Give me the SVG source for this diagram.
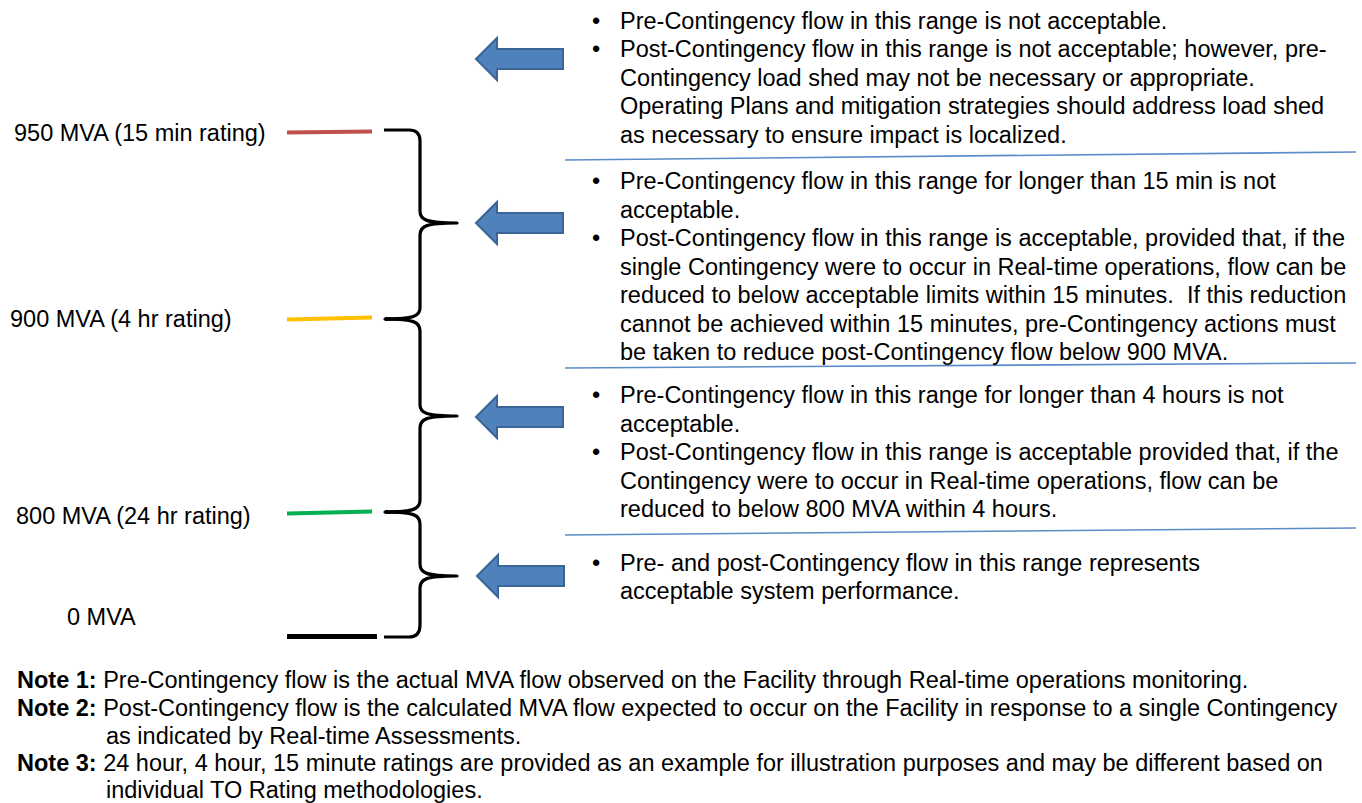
<svg xmlns="http://www.w3.org/2000/svg" width="1362" height="803" viewBox="0 0 1362 803">
<style>
.t{font-family:"Liberation Sans",Arial,sans-serif;font-size:23.5px;fill:#000}
.l{font-family:"Liberation Sans",Arial,sans-serif;font-size:23.5px;fill:#000}
.b{font-weight:bold}
.sep{stroke:#5B8BC9;stroke-width:1.6;fill:none}
.arr{fill:#4F81BD;stroke:#3A6596;stroke-width:2;stroke-linejoin:miter}
.brace{fill:none;stroke:#000;stroke-width:3.2;stroke-linejoin:round;stroke-linecap:butt}
</style>
<defs>
<path id="arrow" class="arr" d="M0,0 L21,-21 L21,-10 L87,-10 L87,10 L21,10 L21,21 Z"/>
</defs>
<rect width="1362" height="803" fill="#fff"/>

<g id="levels">
<g id="level-950">
<text class="l" x="14" y="141">950 MVA (15 min rating)</text>
<line x1="287" y1="132.5" x2="372" y2="131.5" stroke="#C0504D" stroke-width="4"/>
</g>
<g id="level-900">
<text class="l" x="10" y="327">900 MVA (4 hr rating)</text>
<line x1="287" y1="319.5" x2="372" y2="317.5" stroke="#FFC000" stroke-width="4"/>
</g>
<g id="level-800">
<text class="l" x="16" y="524">800 MVA (24 hr rating)</text>
<line x1="287" y1="513.5" x2="372" y2="511.5" stroke="#00B050" stroke-width="4"/>
</g>
<g id="level-0">
<text class="l" x="67" y="625">0 MVA</text>
<line x1="287" y1="636.5" x2="377" y2="636.5" stroke="#000" stroke-width="5"/>
</g>
</g>

<g id="connectors">
<path class="brace" d="M384,130 L409,130 Q420,130 420,141 L420,211 C420,220 426,223 457,223 C426,223 420,226 420,235 L420,308 C420,316 414,319 385,319 C414,319 420,322 420,331 L420,405 C420,413 426,416 457,416 C426,416 420,419 420,428 L420,500 C420,509 414,512 385,512 C414,512 420,515 420,524 L420,564 C420,573 426,576 457,576 C426,576 420,579 420,588 L420,625 Q420,637 409,637 L384,637"/>
<path d="M385,317 L400,317.5 L400,320.5 L385,321 Z" fill="#000"/>
<path d="M385,510 L400,510.5 L400,513.5 L385,514 Z" fill="#000"/>
<use href="#arrow" x="476" y="59"/>
<use href="#arrow" x="476" y="223"/>
<use href="#arrow" x="476" y="417"/>
<use href="#arrow" x="477" y="576"/>
</g>

<g id="separators">
<line class="sep" x1="565" y1="160" x2="1356" y2="152"/>
<line class="sep" x1="565" y1="368" x2="1356" y2="363"/>
<line class="sep" x1="565" y1="535" x2="1356" y2="528"/>
</g>

<g id="block-above-950">
<text class="t" x="592" y="28.5">•</text>
<text class="t" x="620" y="28.5">Pre-Contingency flow in this range is not acceptable.</text>
<text class="t" x="592" y="57">•</text>
<text class="t" x="620" y="57">Post-Contingency flow in this range is not acceptable; however, pre-</text>
<text class="t" x="620" y="85.5">Contingency load shed may not be necessary or appropriate.</text>
<text class="t" x="620" y="114">Operating Plans and mitigation strategies should address load shed</text>
<text class="t" x="620" y="142.5">as necessary to ensure impact is localized.</text>
</g>

<g id="block-900-950">
<text class="t" x="592" y="189">•</text>
<text class="t" x="620" y="189">Pre-Contingency flow in this range for longer than 15 min is not</text>
<text class="t" x="620" y="217.5">acceptable.</text>
<text class="t" x="592" y="246">•</text>
<text class="t" x="620" y="246">Post-Contingency flow in this range is acceptable, provided that, if the</text>
<text class="t" x="620" y="274.5">single Contingency were to occur in Real-time operations, flow can be</text>
<text class="t" x="620" y="303" xml:space="preserve">reduced to below acceptable limits within 15 minutes.  If this reduction</text>
<text class="t" x="620" y="331.5">cannot be achieved within 15 minutes, pre-Contingency actions must</text>
<text class="t" x="620" y="360">be taken to reduce post-Contingency flow below 900 MVA.</text>
</g>

<g id="block-800-900">
<text class="t" x="592" y="403">•</text>
<text class="t" x="620" y="403">Pre-Contingency flow in this range for longer than 4 hours is not</text>
<text class="t" x="620" y="431.5">acceptable.</text>
<text class="t" x="592" y="460">•</text>
<text class="t" x="620" y="460">Post-Contingency flow in this range is acceptable provided that, if the</text>
<text class="t" x="620" y="488.5">Contingency were to occur in Real-time operations, flow can be</text>
<text class="t" x="620" y="517">reduced to below 800 MVA within 4 hours.</text>
</g>

<g id="block-0-800">
<text class="t" x="592" y="570.5">•</text>
<text class="t" x="620" y="570.5">Pre- and post-Contingency flow in this range represents</text>
<text class="t" x="620" y="599">acceptable system performance.</text>
</g>

<g id="notes">
<text class="l" x="17" y="688"><tspan class="b">Note 1:</tspan> Pre-Contingency flow is the actual MVA flow observed on the Facility through Real-time operations monitoring.</text>
<text class="l" x="17" y="716"><tspan class="b">Note 2:</tspan> Post-Contingency flow is the calculated MVA flow expected to occur on the Facility in response to a single Contingency</text>
<text class="l" x="106" y="744">as indicated by Real-time Assessments.</text>
<text class="l" x="17" y="771"><tspan class="b">Note 3:</tspan> 24 hour, 4 hour, 15 minute ratings are provided as an example for illustration purposes and may be different based on</text>
<text class="l" x="106" y="798">individual TO Rating methodologies.</text>
</g>
</svg>
